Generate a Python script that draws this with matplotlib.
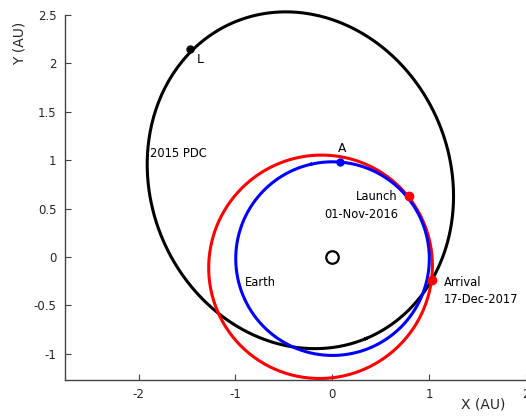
import numpy as np
import matplotlib
matplotlib.use("Agg")
import matplotlib.pyplot as plt

plt.rcParams['font.family'] = ['DejaVu Sans']

# Orbital elements: semi-major axis (AU), eccentricity,
# argument of perihelion (deg)
earth_elems = (1.0, 0.0167, 103.0)
transfer_elems = (1.16, 0.135, 40.0)
pdc_elems = (1.77, 0.485, -67.5)

# marked points (AU)
sun_xy = (0.0, 0.0)
point_L = (-1.47, 2.15)
point_A = (0.08, 0.98)
launch_xy = (0.79, 0.63)
arrival_xy = (1.03, -0.24)

x_ticks = [-2, -1, 0, 1, 2]
y_ticks = [-1, -0.5, 0, 0.5, 1, 1.5, 2, 2.5]
y_ticklabels = ['-1', '-0.5', '0', '0.5', '1', '1.5', '2', '2.5']


def orbit(a, e, w_deg):
    nu = np.linspace(0, 2 * np.pi, 400)
    r = a * (1 - e ** 2) / (1 + e * np.cos(nu))
    th = nu + np.radians(w_deg)
    return r * np.cos(th), r * np.sin(th)


fig = plt.figure(figsize=(5.26, 4.16), dpi=100)
# axes run a bit past the right edge, like the cropped original
ax = fig.add_axes([65 / 526, 36 / 416, 545 / 526, 365 / 416])
ax.set_xlim(-2.76, -2.76 + 545 / 96.8)
ax.set_ylim(-1.27, 2.5)

for elems, col in [(pdc_elems, 'black'), (transfer_elems, '#ff0000'),
                   (earth_elems, '#0000ff')]:
    x, y = orbit(*elems)
    ax.plot(x, y, color=col, lw=2.2, clip_on=False)

ax.plot(*sun_xy, 'o', mfc='white', mec='black', ms=9, mew=1.6)
ax.plot(*point_L, 'o', color='black', ms=5)
ax.plot(*point_A, 'o', color='#0000ff', ms=5)
ax.plot(*launch_xy, 'o', color='#ff0000', ms=6)
ax.plot(*arrival_xy, 'o', color='#ff0000', ms=6)

fs = 8.3
ax.text(-1.40, 2.04, 'L', fontsize=fs + 0.5, va='center')
ax.text(0.10, 1.12, 'A', fontsize=fs + 0.5, ha='center', va='center')
ax.text(-1.88, 1.07, '2015 PDC', fontsize=fs, va='center')
ax.text(-0.90, -0.26, 'Earth', fontsize=fs, va='center')
ax.text(0.68, 0.53, 'Launch\n01-Nov-2016', fontsize=fs, ha='right',
        va='center', linespacing=1.45)
ax.text(1.15, -0.35, 'Arrival\n17-Dec-2017', fontsize=fs, ha='left',
        va='center', linespacing=1.45)

ax.set_xticks(x_ticks)
ax.set_yticks(y_ticks)
ax.set_xticklabels([str(t) for t in x_ticks])
ax.set_yticklabels(y_ticklabels)
ax.tick_params(direction='in', length=4, color='#444444', labelsize=8.5,
               labelcolor='#262626', pad=6)
for s in ['top', 'right']:
    ax.spines[s].set_visible(False)
for s in ['left', 'bottom']:
    ax.spines[s].set_color('#444444')
    ax.spines[s].set_linewidth(1.0)

fig.text(483 / 526, 1 - 405 / 416, 'X (AU)', fontsize=10,
         ha='center', va='center', color='#262626')
fig.text(20 / 526, 1 - 43 / 416, 'Y (AU)', fontsize=10, rotation=90,
         ha='center', va='center', color='#262626')

fig.savefig('out.png', dpi=100)
